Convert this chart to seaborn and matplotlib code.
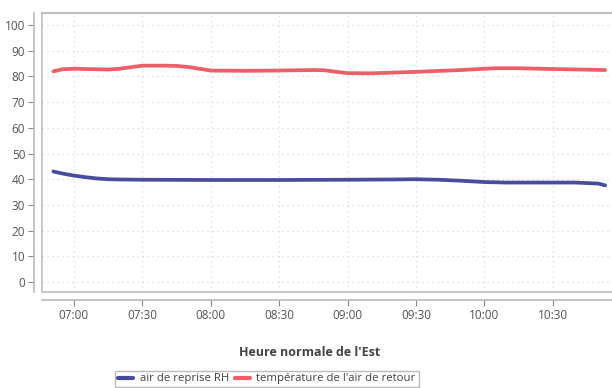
import matplotlib
matplotlib.use("Agg")
import matplotlib.pyplot as plt
import seaborn as sns
import pandas as pd
import numpy as np
from matplotlib.lines import Line2D

# minutes after 06:00
rh_times = [51, 55, 60, 65, 70, 75, 80, 90, 120, 150, 180, 200, 210, 220, 230, 240, 250, 260, 270, 280, 290, 293]
rh_values = [43.0, 42.2, 41.4, 40.8, 40.3, 40.0, 39.9, 39.8, 39.7, 39.7, 39.8, 39.9, 40.0, 39.8, 39.4, 38.9, 38.7, 38.7, 38.7, 38.7, 38.3, 37.6]

temp_times = [51, 55, 60, 70, 75, 80, 85, 90, 100, 105, 110, 115, 120, 135, 150, 165, 170, 175, 180, 190, 210, 230, 240, 245, 255, 270, 293]
temp_values = [82.0, 82.8, 83.0, 82.8, 82.7, 83.0, 83.6, 84.2, 84.2, 84.1, 83.7, 83.0, 82.3, 82.2, 82.3, 82.5, 82.4, 81.8, 81.3, 81.2, 81.8, 82.5, 83.0, 83.2, 83.2, 82.9, 82.5]

series_names = ["air de reprise RH", "température de l'air de retour"]
tick_minutes = [60, 90, 120, 150, 180, 210, 240, 270]
tick_labels = ["07:00", "07:30", "08:00", "08:30", "09:00", "09:30", "10:00", "10:30"]

df = pd.concat([
    pd.DataFrame({"t": rh_times, "v": rh_values, "s": series_names[0]}),
    pd.DataFrame({"t": temp_times, "v": temp_values, "s": series_names[1]}),
])

sns.set_theme(style="white")
plt.rcParams['font.family'] = ['Open Sans', 'DejaVu Sans']

fig = plt.figure(figsize=(6.12, 3.88), dpi=100)
ax = fig.add_axes([42/612, 1-292/388, 1-42/612, (292-13)/388])

palette = {series_names[0]: "#484c9e", series_names[1]: "#ea5f68"}
sns.lineplot(data=df, x="t", y="v", hue="s", palette=palette, linewidth=2.7, ax=ax, legend=False)

ax.set_xlim(46, 116+180)
ax.set_ylim(-3.9, 104.7)
ax.set_yticks(range(0, 101, 10))
ax.set_xticks(tick_minutes)
ax.set_xticklabels(tick_labels)
ax.grid(True, color="#d9d9d9", linestyle=(0, (1, 3)), linewidth=0.9)

for s in ["left", "bottom"]:
    ax.spines[s].set_position(("outward", 6))
    ax.spines[s].set_color("#bbbbbb")
    ax.spines[s].set_linewidth(1.2)
ax.spines["top"].set_color("#c0c0c0")
ax.spines["top"].set_linewidth(1.6)
ax.spines["right"].set_visible(False)
ax.add_line(Line2D([0, 0], [0, 1], transform=ax.transAxes, color="#c0c0c0", lw=1.2, clip_on=False))
ax.add_line(Line2D([0, 1], [0, 0], transform=ax.transAxes, color="#c0c0c0", lw=1.2, clip_on=False))

ax.tick_params(axis="both", which="both", length=4, width=0.8, color="#888888", labelsize=8.5, labelcolor="#555555", left=True, bottom=True, pad=2)
ax.set_xlabel("")
ax.set_ylabel("")

fig.text(310/612, 1-352/388, "Heure normale de l'Est", ha="center", va="center", fontsize=9, fontweight="bold", color="#444444")

handles = [Line2D([0], [0], color=palette[n], lw=3) for n in series_names]
leg = fig.legend(handles, series_names, loc="center", bbox_to_anchor=(267/612, 1-379/388), ncol=2, fontsize=8.2,
                 frameon=True, fancybox=False, handlelength=1.3, handletextpad=0.6, columnspacing=0.5,
                 borderpad=0.25, labelcolor="#444444")
leg.get_frame().set_edgecolor("#aaaaaa")
leg.get_frame().set_linewidth(1)

fig.savefig("out.png", dpi=100)
